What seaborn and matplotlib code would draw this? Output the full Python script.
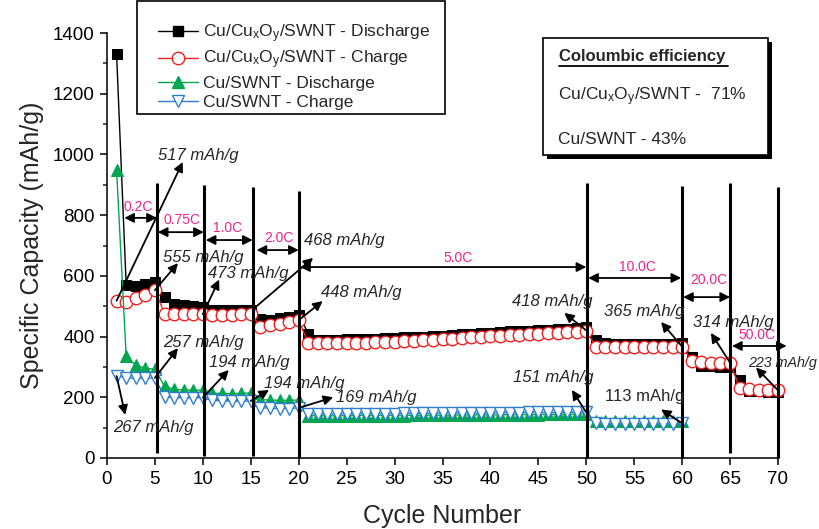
import matplotlib
matplotlib.use("Agg")
import matplotlib.pyplot as plt
import seaborn as sns
import numpy as np
import pandas as pd
from matplotlib.lines import Line2D
from matplotlib.patches import Rectangle

# ---------------- data ----------------
cycles_cuo = list(range(1, 71))
cycles_swnt = list(range(1, 61))

cuo_discharge = [1330, 570, 566, 573, 581,
                 531, 507, 503, 500, 498,
                 489, 487, 486, 487, 489,
                 458, 454, 460, 465, 472,
                 410, 390, 390, 390, 391, 391, 392, 393, 394, 395,
                 397, 398, 400, 402, 403, 405, 407, 409, 411, 413,
                 415, 417, 418, 420, 422, 423, 425, 426, 428, 430,
                 390, 378, 377, 377, 377, 377, 377, 377, 377, 378,
                 333, 303, 302, 301, 301,
                 257, 222, 220, 219, 218]

cuo_charge = [518, 515, 526, 537, 553,
              476, 475, 475, 474, 474,
              470, 471, 472, 474, 476,
              432, 438, 443, 449, 454,
              378, 378, 378, 378, 379, 379, 380, 381, 382, 383,
              385, 386, 388, 390, 391, 393, 395, 397, 399, 401,
              403, 405, 406, 408, 410, 411, 413, 414, 416, 418,
              367, 366, 366, 366, 366, 366, 366, 366, 366, 367,
              320, 315, 314, 314, 314,
              230, 226, 225, 224, 223]

swnt_discharge = [948, 335, 305, 296, 292,
                  236, 226, 224, 224, 223,
                  213, 213, 212, 213, 214,
                  192, 191, 190, 190, 191,
                  139, 139, 139, 139, 139, 140, 140, 140, 140, 140,
                  140, 141, 141, 141, 141, 141, 142, 142, 142, 142,
                  142, 143, 143, 143, 143, 144, 144, 144, 145, 145,
                  123, 122, 122, 122, 122, 122, 122, 122, 122, 122]

swnt_charge = [270, 265, 262, 262, 264,
               201, 199, 198, 198, 199,
               190, 188, 187, 187, 188,
               166, 164, 163, 163, 165,
               145, 145, 145, 145, 145, 146, 146, 146, 146, 146,
               147, 147, 147, 147, 148, 148, 148, 148, 148, 149,
               149, 149, 149, 150, 150, 150, 150, 150, 151, 151,
               114, 113, 113, 113, 113, 113, 113, 113, 113, 114]

series_labels = [r"Cu/Cu$_{\mathrm{x}}$O$_{\mathrm{y}}$/SWNT - Discharge",
                 r"Cu/Cu$_{\mathrm{x}}$O$_{\mathrm{y}}$/SWNT - Charge",
                 "Cu/SWNT - Discharge",
                 "Cu/SWNT - Charge"]

rate_labels = ["0.2C", "0.75C", "1.0C", "2.0C", "5.0C", "10.0C", "20.0C", "50.0C"]
boundaries = [5.2, 10.1, 15.2, 20.05, 50.05, 60.0, 65.0, 70.0]

capacity_labels = ["517 mAh/g", "555 mAh/g", "473 mAh/g", "468 mAh/g", "448 mAh/g",
                   "257 mAh/g", "267 mAh/g", "194 mAh/g", "194 mAh/g", "169 mAh/g",
                   "418 mAh/g", "151 mAh/g", "365 mAh/g", "113 mAh/g", "314 mAh/g",
                   "223 mAh/g"]

# ---------------- style ----------------
sns.set_theme(style="ticks")
plt.rcParams["font.family"] = ["Liberation Sans", "DejaVu Sans"]
plt.rcParams["mathtext.fontset"] = "custom"
plt.rcParams["mathtext.rm"] = "Liberation Sans"
plt.rcParams["mathtext.it"] = "Liberation Sans:italic"
plt.rcParams["mathtext.bf"] = "Liberation Sans:bold"

W, H = 819, 529
fig = plt.figure(figsize=(W / 100, H / 100), dpi=100)
ax = fig.add_axes([107 / W, 1 - 458 / H, (778 - 107) / W, (458 - 33) / H])

df1 = pd.DataFrame({"cycle": cycles_cuo, "dis": cuo_discharge, "chg": cuo_charge})
df2 = pd.DataFrame({"cycle": cycles_swnt, "dis": swnt_discharge, "chg": swnt_charge})

red, green, blue = "#f02020", "#00a650", "#2f7fd0"
common = dict(ax=ax, estimator=None, linewidth=1.0, clip_on=False)
sns.lineplot(data=df1, x="cycle", y="dis", color="black", marker="s", markersize=7.2,
             markeredgecolor="black", markerfacecolor="black", zorder=3, **common)
sns.lineplot(data=df1, x="cycle", y="chg", color=red, marker="o", markersize=9,
             markeredgecolor=red, markerfacecolor="white", markeredgewidth=1.0,
             zorder=4, **common)
sns.lineplot(data=df2, x="cycle", y="dis", color=green, marker="^", markersize=8,
             markeredgecolor=green, markerfacecolor=green, zorder=5, **common)
sns.lineplot(data=df2, x="cycle", y="chg", color=blue, marker="v", markersize=9,
             markeredgecolor=blue, markerfacecolor="white", markeredgewidth=1.0,
             zorder=6, **common)

ax.set_xlim(0, 70)
ax.set_ylim(0, 1400)
ax.set_xticks(np.arange(0, 71, 5))
ax.set_yticks(np.arange(0, 1401, 200))
ax.set_yticks(np.arange(100, 1400, 200), minor=True)
ax.tick_params(axis="both", which="major", labelsize=13.5, length=5, width=1.1,
               direction="out", colors="black", pad=4)
ax.tick_params(axis="y", which="minor", length=3, width=1.1, direction="out")
for s in ["top", "right"]:
    ax.spines[s].set_visible(False)
for s in ["left", "bottom"]:
    ax.spines[s].set_linewidth(1.1)
    ax.spines[s].set_color("black")
ax.set_xlabel("Cycle Number", fontsize=18, labelpad=12)
ax.set_ylabel("Specific Capacity (mAh/g)", fontsize=18, labelpad=6)
ax.set_facecolor("white")

# vertical rate boundaries
tops = [906, 899, 893, 880, 906, 896, 906, 893]
bottoms = [15, 8, 5, 0, 0, 0, 15, 0]
for xb, tp, bt in zip(boundaries, tops, bottoms):
    ax.plot([xb, xb], [bt, tp], color="black", lw=2.2, zorder=8, clip_on=False,
            solid_capstyle="butt")

# rate double arrows and labels
magenta = "#e8268c"
rate_arrows = [(1.8, 5.2, 791), (5.3, 10.1, 744), (10.3, 15.2, 718), (15.6, 20.0, 685),
               (20.15, 50.0, 629), (50.2, 59.9, 593), (60.1, 65.0, 530), (65.2, 70.9, 369)]
rate_text_pos = [(3.3, 827), (7.8, 784), (12.6, 758), (17.9, 725),
                 (36.6, 659), (55.3, 629), (62.8, 586), (67.8, 405)]
for lab, (x0, x1, yy), (tx, ty) in zip(rate_labels, rate_arrows, rate_text_pos):
    ax.annotate("", xy=(x1, yy), xytext=(x0, yy),
                arrowprops=dict(arrowstyle="<|-|>", color="black", lw=1.3,
                                mutation_scale=14, shrinkA=0, shrinkB=0),
                zorder=9, annotation_clip=False)
    ax.text(tx, ty, lab, color=magenta, fontsize=10, ha="center", va="center", zorder=9,
            clip_on=False)

# capacity annotations: text position, arrow tail, arrow head
cap_layout = [((5.35, 998), (1.0, 518), (7.9, 975)),
              ((5.8, 659), (5.0, 553), (7.4, 642)),
              ((10.5, 609), (10.0, 474), (11.7, 588)),
              ((20.5, 718), (15.2, 489), (21.5, 659)),
              ((22.3, 545), (20.0, 454), (22.5, 517)),
              ((5.9, 382), (5.0, 264), (7.4, 362)),
              ((0.6, 102), (1.0, 270), (1.9, 142)),
              ((10.6, 313), (10.0, 199), (12.7, 290)),
              ((16.4, 247), (15.0, 188), (16.9, 224)),
              ((23.9, 198), (20.0, 165), (23.6, 200)),
              ((42.2, 514), (50.0, 420), (47.7, 478)),
              ((42.4, 264), (50.0, 150), (48.5, 224)),
              ((51.9, 481), (60.0, 367), (57.8, 448)),
              ((52.0, 201), (60.0, 114), (57.8, 160)),
              ((61.1, 448), (65.0, 314), (63.0, 412)),
              ((66.9, 313), (70.0, 223), (67.7, 298))]
for lab, ((tx, ty), tail, head) in zip(capacity_labels, cap_layout):
    ax.annotate("", xy=head, xytext=tail,
                arrowprops=dict(arrowstyle="-|>", color="black", lw=1.3,
                                mutation_scale=14, shrinkA=0, shrinkB=0),
                zorder=9, annotation_clip=False)
    style = "normal" if lab.startswith("113") else "italic"
    size = 10.3 if lab.startswith("223") else 12
    ax.text(tx, ty, lab, fontsize=size, style=style, ha="left", va="center",
            zorder=10, clip_on=False)

# legend (frame drawn separately)
handles = [Line2D([], [], color="black", marker="s", markersize=7.2, lw=1.0),
           Line2D([], [], color=red, marker="o", markersize=9, lw=1.0,
                  markerfacecolor="white"),
           Line2D([], [], color=green, marker="^", markersize=8, lw=1.0),
           Line2D([], [], color=blue, marker="v", markersize=9, lw=1.0,
                  markerfacecolor="white")]
fig.add_artist(Rectangle((137 / W, 1 - 114 / H), (445 - 137) / W, (114 - 1) / H,
                         transform=fig.transFigure, fc="white", ec="black", lw=1.2, zorder=19))
leg = fig.legend(handles, series_labels, loc="upper left",
                 bbox_to_anchor=(151 / W, 1 - 15 / H), bbox_transform=fig.transFigure,
                 borderaxespad=0, fontsize=12.5, frameon=False,
                 handlelength=2.3, handletextpad=0.3,
                 labelspacing=0.25, borderpad=0.4)
leg.set_zorder(20)

# Coulombic efficiency box
bx0, bx1, by0, by1 = 543, 768, 38, 155
fig.add_artist(Rectangle(((bx0 + 4) / W, 1 - (by1 + 4) / H), (bx1 - bx0) / W, (by1 - by0) / H,
                         transform=fig.transFigure, fc="black", ec="black", lw=0, zorder=20))
fig.add_artist(Rectangle((bx0 / W, 1 - by1 / H), (bx1 - bx0) / W, (by1 - by0) / H,
                         transform=fig.transFigure, fc="white", ec="black", lw=1.2, zorder=21))
t_title = fig.text(559 / W, 1 - 57 / H, "Coloumbic efficiency", fontsize=12, weight="bold",
                   ha="left", va="center", zorder=22)
fig.text(558 / W, 1 - 97 / H, r"Cu/Cu$_{\mathrm{x}}$O$_{\mathrm{y}}$/SWNT -  71%", fontsize=12.5,
         ha="left", va="center", zorder=22)
fig.text(558 / W, 1 - 140 / H, "Cu/SWNT - 43%", fontsize=12.5, ha="left", va="center", zorder=22)

fig.canvas.draw()
bb = t_title.get_window_extent()
inv = fig.transFigure.inverted()
(x0f, y0f) = inv.transform((bb.x0, bb.y0 - 1))
(x1f, _) = inv.transform((bb.x1 + 3, bb.y0))
fig.add_artist(Line2D([x0f, x1f], [y0f, y0f], transform=fig.transFigure, color="black",
                      lw=1.3, zorder=22))

fig.savefig("out.png", dpi=100, facecolor="white")
